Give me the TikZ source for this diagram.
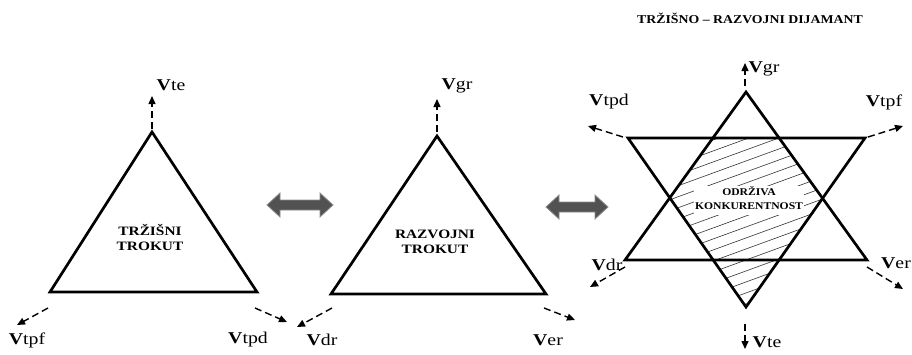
\documentclass[tikz,border=0pt]{standalone}
\usepackage{fontspec}
\setmainfont{Liberation Serif}
\usepackage{graphicx}
\usetikzlibrary{arrows.meta}
\newcommand{\sx}[2][1.2]{\scalebox{#1}[1]{#2}}
\newcommand{\lbl}[1]{\sx{\fontsize{16.5}{19}\selectfont\textbf{V}#1}}
\begin{document}
\begin{tikzpicture}[x=1pt,y=-1pt,
  tri/.style={line width=2.7pt, line join=miter},
  dasharrow/.style={line width=1.4pt, dash pattern=on 7pt off 4pt, -{Triangle[length=8pt,width=7pt]}},
  vlabel/.style={inner sep=0pt, anchor=center},
  boxtext/.style={inner sep=1pt, align=center},
  bigarrow/.style={fill=black!68, draw=black!45, line width=0.8pt},
  hatch/.style={line width=0.6pt, black!80}]
\useasboundingbox (0,0) rectangle (912,354);

% ---------- Triangle 1 ----------
\coordinate (t1a) at (152,132);
\coordinate (t1b) at (50,292);
\coordinate (t1c) at (257,292);
\draw[tri] (t1a) -- (t1b) -- (t1c) -- cycle;
\node[boxtext] (t1txt) at (150,240) {\sx{\fontsize{12.8}{15.5}\selectfont\bfseries\begin{tabular}{@{}c@{}}TRŽIŠNI\\TROKUT\end{tabular}}};
\coordinate (t1aS) at (152,129);
\coordinate (t1aE) at (152,96);
\coordinate (t1bS) at (48,308);
\coordinate (t1bE) at (17,325);
\coordinate (t1cS) at (255,308);
\coordinate (t1cE) at (287,322);
\draw[dasharrow] (t1aS) -- (t1aE);
\draw[dasharrow] (t1bS) -- (t1bE);
\draw[dasharrow] (t1cS) -- (t1cE);
\node[vlabel] (l1te) at (171,85) {\lbl{te}};
\node[vlabel] (l1tpf) at (27,340) {\lbl{tpf}};
\node[vlabel] (l1tpd) at (248,340) {\lbl{tpd}};

% ---------- Double arrow 1 ----------
\coordinate (da1) at (300,205);
\path[bigarrow, shift={(da1)}] (-33,0) -- (-20,-12) -- (-20,-5) -- (20,-5) -- (20,-12) -- (33,0) -- (20,12) -- (20,5) -- (-20,5) -- (-20,12) -- cycle;

% ---------- Triangle 2 ----------
\coordinate (t2a) at (437,136);
\coordinate (t2b) at (331,294);
\coordinate (t2c) at (546,294);
\draw[tri] (t2a) -- (t2b) -- (t2c) -- cycle;
\node[boxtext] (t2txt) at (435,243) {\sx{\fontsize{12.8}{15.5}\selectfont\bfseries\begin{tabular}{@{}c@{}}RAZVOJNI\\TROKUT\end{tabular}}};
\coordinate (t2aS) at (437,132);
\coordinate (t2aE) at (437,99);
\coordinate (t2bS) at (332,308);
\coordinate (t2bE) at (297,327);
\coordinate (t2cS) at (544,308);
\coordinate (t2cE) at (575,320);
\draw[dasharrow] (t2aS) -- (t2aE);
\draw[dasharrow] (t2bS) -- (t2bE);
\draw[dasharrow] (t2cS) -- (t2cE);
\node[vlabel] (l2gr) at (457,86) {\lbl{gr}};
\node[vlabel] (l2dr) at (322,340) {\lbl{dr}};
\node[vlabel] (l2er) at (548,340) {\lbl{er}};

% ---------- Double arrow 2 ----------
\coordinate (da2) at (577,207);
\path[bigarrow, shift={(da2)}] (-31,0) -- (-18,-12) -- (-18,-5) -- (18,-5) -- (18,-12) -- (31,0) -- (18,12) -- (18,5) -- (-18,5) -- (-18,12) -- cycle;

% ---------- Diamond (star) ----------
\node[inner sep=0pt] (title) at (750,18) {\sx[1.15]{\fontsize{12}{14}\selectfont\bfseries TRŽIŠNO – RAZVOJNI DIJAMANT}};

\coordinate (ua) at (746,92);
\coordinate (ub) at (625,260);
\coordinate (uc) at (867,260);
\coordinate (da) at (628,138);
\coordinate (db) at (865,138);
\coordinate (dc) at (746,307);

\begin{scope}
\clip (712,138) -- (780,138) -- (823,200) -- (746,307) -- (670,200) -- cycle;
\foreach \k in {0,...,24}
  \draw[hatch] (650,{130+11*\k}) -- (850,{130+11*\k-73});
\end{scope}

\draw[tri] (ua) -- (ub) -- (uc) -- cycle;
\draw[tri] (da) -- (db) -- (dc) -- cycle;

\node[boxtext, fill=white] (stxt) at (749,200) {\sx[1.13]{\fontsize{10.3}{13.5}\selectfont\bfseries\begin{tabular}{@{}c@{}}ODRŽIVA\\KONKURENTNOST\end{tabular}}};

\coordinate (uaS) at (745,86);
\coordinate (uaE) at (745,63);
\coordinate (dcS) at (745,324);
\coordinate (dcE) at (745,349);
\coordinate (daS) at (623,137);
\coordinate (daE) at (588,126);
\coordinate (dbS) at (868,137);
\coordinate (dbE) at (903,126);
\coordinate (ubS) at (625,267);
\coordinate (ubE) at (590,287);
\coordinate (ucS) at (867,267);
\coordinate (ucE) at (903,289);
\draw[dasharrow] (uaS) -- (uaE);
\draw[dasharrow] (dcS) -- (dcE);
\draw[dasharrow] (daS) -- (daE);
\draw[dasharrow] (dbS) -- (dbE);
\draw[dasharrow] (ubS) -- (ubE);
\draw[dasharrow] (ucS) -- (ucE);
\node[vlabel] (sgr) at (764,69) {\lbl{gr}};
\node[vlabel] (ste) at (767,342) {\lbl{te}};
\node[vlabel] (stpd) at (609,102) {\lbl{tpd}};
\node[vlabel] (stpf) at (884,102) {\lbl{tpf}};
\node[vlabel] (sdr) at (607,265) {\lbl{dr}};
\node[vlabel] (ser) at (896,263) {\lbl{er}};
\end{tikzpicture}
\end{document}
